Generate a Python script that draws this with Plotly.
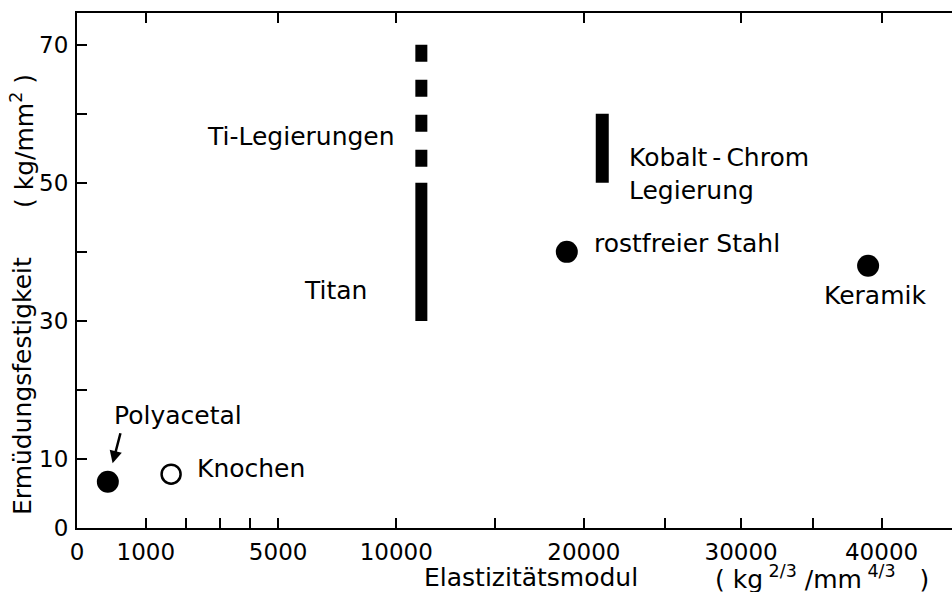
import plotly.graph_objects as go

# ---- data ----
point_names = ["Polyacetal", "Knochen", "rostfreier Stahl", "Keramik"]
point_E = [300, 1600, 19000, 39000]          # Elastizitaetsmodul
point_F = [6.7, 7.8, 40, 38]                 # Ermuedungsfestigkeit
point_filled = [True, False, True, True]

titan_E = 11200
titan_F = [30, 50]
tileg_E = 11200
tileg_F = [50, 70]
cocr_E = 21100
cocr_F = [50, 60]

x_label_vals = [0, 1000, 5000, 10000, 20000, 30000, 40000]
x_minor_vals = [2000, 3000, 4000, 15000, 25000, 35000]
x_top_ticks = [1000, 5000, 10000, 20000, 30000, 40000]
y_label_vals = [0, 10, 30, 50, 70]
y_minor_vals = [20, 40, 60]


def u(e):
    # the axis is scaled with E^(2/3)
    return e ** (2.0 / 3.0)


FONT = "DejaVu Sans"
BLACK = "black"

fig = go.Figure()

# bars
fig.add_trace(go.Scatter(x=[u(titan_E)] * 2, y=titan_F, mode="lines",
                         line=dict(color=BLACK, width=12), showlegend=False))
fig.add_trace(go.Scatter(x=[u(tileg_E)] * 2, y=tileg_F[::-1], mode="lines",
                         line=dict(color=BLACK, width=12, dash="17px,18px"),
                         showlegend=False))
fig.add_trace(go.Scatter(x=[u(cocr_E)] * 2, y=cocr_F, mode="lines",
                         line=dict(color=BLACK, width=13), showlegend=False))

# points
for name, e, f, filled in zip(point_names, point_E, point_F, point_filled):
    if filled:
        marker = dict(symbol="circle", size=22, color=BLACK)
    else:
        marker = dict(symbol="circle-open", size=19, color=BLACK,
                      line=dict(width=2.5, color=BLACK))
    fig.add_trace(go.Scatter(x=[u(e)], y=[f], mode="markers", marker=marker,
                             showlegend=False))

# invisible trace so the top axis is drawn
fig.add_trace(go.Scatter(x=[u(x_top_ticks[0])], y=[0], xaxis="x2",
                         mode="markers", marker=dict(opacity=0),
                         showlegend=False, hoverinfo="skip"))

lab = dict(family=FONT, size=25, color=BLACK)
ann = []
# point labels
ann.append(dict(x=u(point_E[0]), y=point_F[0], text="Polyacetal", showarrow=False,
                xanchor="center", yanchor="middle", xshift=70, yshift=66, font=lab))
ann.append(dict(x=u(point_E[0]), y=point_F[0], text="", showarrow=True,
                ax=13, ay=-50, standoff=19, arrowhead=2, arrowsize=1,
                arrowwidth=2.5, arrowcolor=BLACK))
ann.append(dict(x=u(point_E[1]), y=point_F[1], text="Knochen", showarrow=False,
                xanchor="left", yanchor="middle", xshift=24, yshift=6, font=lab))
ann.append(dict(x=u(point_E[2]), y=point_F[2], text="rostfreier Stahl",
                showarrow=False, xanchor="left", yanchor="middle", xshift=25,
                yshift=8, font=lab))
ann.append(dict(x=u(point_E[3]), y=point_F[3], text="Keramik", showarrow=False,
                xanchor="center", yanchor="middle", xshift=7, yshift=-30, font=lab))
ann.append(dict(x=u(tileg_E), y=sum(tileg_F) / 2, text="Ti-Legierungen",
                showarrow=False, xanchor="right", yanchor="middle", xshift=-24,
                yshift=-23, font=lab))
ann.append(dict(x=u(titan_E), y=sum(titan_F) / 2, text="Titan",
                showarrow=False, xanchor="right", yanchor="middle", xshift=-52,
                yshift=-39, font=lab))
ann.append(dict(x=u(cocr_E), y=sum(cocr_F) / 2,
                text="Kobalt\u2009-\u2009Chrom<br>Legierung", align="left",
                showarrow=False, xanchor="left", yanchor="middle", xshift=25,
                yshift=-26, font=lab))

# axis titles
ty = (528 - 577) / 515
ann.append(dict(xref="paper", yref="paper", x=(422 - 77) / 875, y=ty,
                text="Elastizitätsmodul", showarrow=False, xanchor="left",
                yanchor="middle", font=lab))
ann.append(dict(xref="paper", yref="paper", x=(713 - 77) / 875, y=ty,
                text="( kg<sup> 2/3</sup> /mm<sup> 4/3</sup>   )", showarrow=False,
                xanchor="left", yanchor="middle", font=lab))
ann.append(dict(xref="paper", yref="paper", x=(22 - 77) / 875, y=(528 - 386) / 515,
                text="Ermüdungsfestigkeit", showarrow=False, textangle=-90,
                xanchor="center", yanchor="middle", font=lab))
ann.append(dict(xref="paper", yref="paper", x=(22 - 77) / 875, y=(528 - 141) / 515,
                text="( kg/mm<sup>2</sup> )", showarrow=False, textangle=-90,
                xanchor="center", yanchor="middle", font=lab))

xr = [0, 1272]

axis_common = dict(showline=True, linecolor=BLACK, linewidth=2, ticks="inside",
                   ticklen=10, tickwidth=2, tickcolor=BLACK, showgrid=False,
                   zeroline=False)
tickfont = dict(family=FONT, size=23, color=BLACK)
minor_style = dict(ticks="inside", ticklen=10, tickwidth=2, tickcolor=BLACK,
                   showgrid=False, tickmode="array")

fig.update_layout(
    width=952, height=592,
    margin=dict(l=77, r=0, t=13, b=64),
    paper_bgcolor="white", plot_bgcolor="white",
    showlegend=False,
    xaxis=dict(range=xr, tickmode="array", tickvals=[u(v) for v in x_label_vals],
               ticktext=[str(v) for v in x_label_vals], ticklabelstandoff=2,
               tickfont=tickfont,
               minor=dict(tickvals=[u(v) for v in x_minor_vals], **minor_style),
               **axis_common),
    xaxis2=dict(range=xr, overlaying="x", side="top", tickmode="array",
                tickvals=[u(v) for v in x_top_ticks], showticklabels=False,
                **axis_common),
    yaxis=dict(range=[0, 74.6], tickmode="array", tickvals=y_label_vals,
               ticktext=[str(v) for v in y_label_vals], ticklabelstandoff=2,
               tickfont=tickfont,
               minor=dict(tickvals=y_minor_vals, **minor_style),
               **axis_common),
    annotations=ann,
)

fig.write_html("out.html",
               config={"displayModeBar": False},
               post_script="document.body.style.margin='0';"
                           "document.body.style.padding='0';"
                           "document.body.style.overflow='hidden';")
